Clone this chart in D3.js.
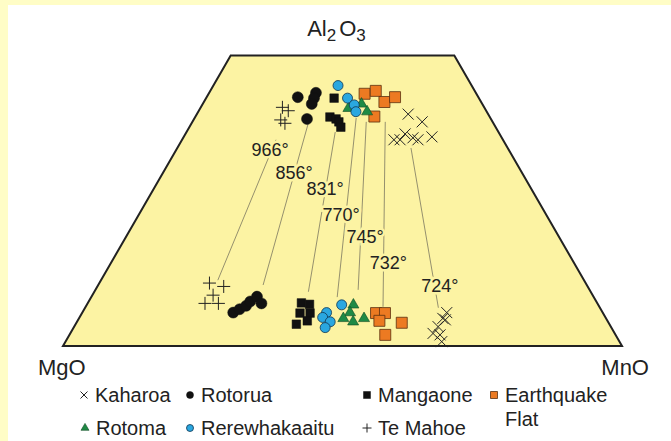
<!DOCTYPE html>
<html>
<head>
<meta charset="utf-8">
<script src="https://cdn.jsdelivr.net/npm/d3@7"></script>
<style>
  body { margin: 0; background: #fff; }
  text { font-family: "Liberation Sans", Arial, sans-serif; fill: #222; }
</style>
</head>
<body>
<div id="ternary-chart"></div>
<script>
// every point is [Al2O3 %, MnO %], MgO is the rest
var topAl2O3 = 60;

var teMahoeTop = [[49.3,14.6],[48.6,16.0],[46.7,15.6],[46.0,16.7]];
var teMahoeBottom = [[13.0,19.7],[12.3,22.6],[10.5,21.6],[8.8,21.0],[8.8,23.4]];
var rotoruaTop = [[51.4,16.3],[52.3,19.1],[51.2,19.3],[50.0,19.5],[46.9,20.2]];
var rotoruaBottom = [[6.9,27.0],[7.6,27.8],[8.3,28.6],[9.2,28.9],[10.2,29.6],[8.8,31.1]];
var mangaoneTop = [[51.2,22.9],[47.3,24.1],[46.9,25.4],[46.3,26.2],[45.2,27.1]];
var mangaoneBottom = [[8.9,38.2],[8.6,39.8],[6.8,39.0],[6.8,40.8],[5.2,41.1],[4.5,39.5]];
var earthquakeFlatTop = [[52.1,27.9],[52.7,29.6],[50.4,32.3],[51.4,33.7],[47.4,32.0]];
var earthquakeFlatBottom = [[6.8,52.6],[6.8,54.2],[5.2,54.0],[4.8,58.2],[2.3,56.5]];
var rotomaTop = [[49.1,26.5],[50.0,28.4],[48.4,30.2]];
var rotomaBottom = [[8.5,47.7],[6.9,47.9],[5.7,47.3],[5.0,49.4],[5.7,51.0]];
var rerewhakaaituTop = [[53.8,22.3],[51.2,25.3],[49.8,27.2],[48.4,28.2]];
var rerewhakaaituBottom = [[8.5,45.6],[6.9,43.7],[5.9,43.5],[5.0,45.3],[3.8,45.0]];
var kaharoaTop = [[47.9,37.8],[46.3,41.1],[42.6,37.9],[42.6,39.0],[43.8,39.3],[43.0,41.1],[42.6,42.2],[43.2,44.4]];
var kaharoaBottom = [[6.9,65.2],[5.7,65.1],[5.4,65.7],[4.0,65.1],[2.6,64.9],[2.3,66.3],[0.9,67.3]];

// tie lines with their temperatures
var tieTemps = ["966°","856°","831°","770°","745°","732°","724°"];
var tieTop = [[42.6,16.8],[45.9,20.9],[44.2,26.6],[47.1,28.9],[46.3,31.1],[46.3,34.5],[40.9,41.8]];
var tieBottom = [[13.6,20.9],[12.6,29.5],[11.2,38.3],[10.1,44.0],[11.6,47.0],[8.1,53.2],[7.9,63.2]];
var tempLabelPos = [[40.5,16.8],[35.7,23.5],[32.4,30.7],[27.1,36.2],[22.5,42.8],[17.2,49.6],[12.4,61.2]];

var width = 671, height = 441;
var base = {left: 63, right: 622, y: 346};
var side = base.right - base.left;

var svg = d3.select("#ternary-chart")
  .append("svg")
    .attr("width", width)
    .attr("height", height);

// pale slide frame
svg.append("rect").attr("x", 0).attr("y", 0).attr("width", width).attr("height", 5).attr("fill", "#fffdc6");
svg.append("rect").attr("x", 0).attr("y", 0).attr("width", 8).attr("height", height).attr("fill", "#fffdc6");

var x = d3.scaleLinear().domain([0, 100]).range([base.left, base.right]);
var y = d3.scaleLinear().domain([0, 100]).range([base.y, base.y - side * Math.sqrt(3) / 2]);

function px(d) { return x(d[1] + d[0] / 2); }
function py(d) { return y(d[0]); }

var corners = [[topAl2O3, 0], [topAl2O3, 100 - topAl2O3], [0, 100], [0, 0]];
svg.append("path")
  .datum(corners)
  .attr("d", d3.line().x(px).y(py).curve(d3.curveLinearClosed))
  .attr("fill", "#fcf3a3")
  .attr("stroke", "#222")
  .attr("stroke-width", 2)
  .attr("stroke-linejoin", "miter");

// tie lines
svg.append("g").selectAll("line")
  .data(tieTemps)
  .enter().append("line")
    .attr("x1", function(d, i) { return px(tieTop[i]); })
    .attr("y1", function(d, i) { return py(tieTop[i]); })
    .attr("x2", function(d, i) { return px(tieBottom[i]); })
    .attr("y2", function(d, i) { return py(tieBottom[i]); })
    .attr("stroke", "#7a7660")
    .attr("stroke-width", 0.8);

svg.append("g").selectAll("text")
  .data(tieTemps)
  .enter().append("text")
    .attr("x", function(d, i) { return px(tempLabelPos[i]); })
    .attr("y", function(d, i) { return py(tempLabelPos[i]); })
    .attr("text-anchor", "middle")
    .attr("dominant-baseline", "central")
    .attr("stroke", "#fcf3a3")
    .attr("stroke-width", 5)
    .attr("paint-order", "stroke")
    .style("font-size", "18px")
    .text(function(d) { return d; });

function markerPath(type, s) {
  if (type == "times") return "M" + (-s) + "," + (-s) + "L" + s + "," + s + "M" + (-s) + "," + s + "L" + s + "," + (-s);
  if (type == "plus") return "M" + (-s) + ",0L" + s + ",0M0," + (-s) + "L0," + s;
  if (type == "circle") return d3.symbol(d3.symbolCircle, Math.PI * s * s)();
  if (type == "square") return d3.symbol(d3.symbolSquare, 4 * s * s)();
  return d3.symbol(d3.symbolTriangle, Math.sqrt(3) * s * s)();
}

var suites = [
  {name: "Te Mahoe", pts: teMahoeTop.concat(teMahoeBottom), type: "plus", s: 6.5, fill: "none", stroke: "#222", sw: 1},
  {name: "Rotorua", pts: rotoruaTop.concat(rotoruaBottom), type: "circle", s: 5.5, fill: "#111", stroke: "#111", sw: 0.5},
  {name: "Mangaone", pts: mangaoneTop.concat(mangaoneBottom), type: "square", s: 4.3, fill: "#111", stroke: "#111", sw: 0.5},
  {name: "Earthquake Flat", pts: earthquakeFlatTop.concat(earthquakeFlatBottom), type: "square", s: 5.5, fill: "#ec7a22", stroke: "#5a3010", sw: 0.8},
  {name: "Rotoma", pts: rotomaTop.concat(rotomaBottom), type: "triangle", s: 5.5, fill: "#1f8a45", stroke: "#0d4a22", sw: 0.6},
  {name: "Rerewhakaaitu", pts: rerewhakaaituTop.concat(rerewhakaaituBottom), type: "circle", s: 5, fill: "#2aa7e0", stroke: "#0f3550", sw: 0.8},
  {name: "Kaharoa", pts: kaharoaTop.concat(kaharoaBottom), type: "times", s: 5.5, fill: "none", stroke: "#222", sw: 1}
];

suites.forEach(function(suite) {
  svg.append("g").selectAll("path")
    .data(suite.pts)
    .enter().append("path")
      .attr("transform", function(d) { return "translate(" + px(d) + "," + py(d) + ")"; })
      .attr("d", markerPath(suite.type, suite.s))
      .attr("fill", suite.fill)
      .attr("stroke", suite.stroke)
      .attr("stroke-width", suite.sw);
});

// corner labels
var al = svg.append("text")
  .attr("x", px(corners[0]) + (px(corners[1]) - px(corners[0])) / 2 - 6)
  .attr("y", 36)
  .attr("text-anchor", "middle")
  .style("font-size", "22px");
al.append("tspan").text("Al");
al.append("tspan").attr("dy", 5).style("font-size", "17px").text("2");
al.append("tspan").attr("dy", -5).attr("dx", 3).text("O");
al.append("tspan").attr("dy", 5).style("font-size", "17px").text("3");

svg.append("text").attr("x", 38).attr("y", 375).style("font-size", "22px").text("MgO");
svg.append("text").attr("x", 649).attr("y", 375).attr("text-anchor", "end").style("font-size", "22px").text("MnO");

// legend
var legendNames = ["Kaharoa", "Rotorua", "Mangaone", "Earthquake Flat", "Rotoma", "Rerewhakaaitu", "Te Mahoe"];
var legendSuite = {};
suites.forEach(function(s) { legendSuite[s.name] = s; });
var legendX = [84, 190, 367, 494, 85, 190, 367];
var legendY = [395, 395, 395, 395, 428, 428, 428];
var legendSize = {times: 3.5, circle: 3.5, square: 3.5, triangle: 4, plus: 4.5};

var legend = svg.append("g").selectAll("g")
  .data(legendNames)
  .enter().append("g")
    .attr("transform", function(d, i) { return "translate(" + legendX[i] + "," + legendY[i] + ")"; });

legend.append("path")
  .attr("d", function(d) { var s = legendSuite[d]; return markerPath(s.type, legendSize[s.type]); })
  .attr("fill", function(d) { return legendSuite[d].fill; })
  .attr("stroke", function(d) { return legendSuite[d].stroke; })
  .attr("stroke-width", function(d) { return legendSuite[d].sw; });

legend.append("text")
  .attr("x", 11)
  .attr("dominant-baseline", "central")
  .style("font-size", "20px")
  .each(function(d) {
    var words = d == "Earthquake Flat" ? ["Earthquake", "Flat"] : [d];
    var t = d3.select(this);
    words.forEach(function(w, k) {
      t.append("tspan").attr("x", 11).attr("dy", k == 0 ? 0 : 24).text(w);
    });
  });
</script>
</body>
</html>
